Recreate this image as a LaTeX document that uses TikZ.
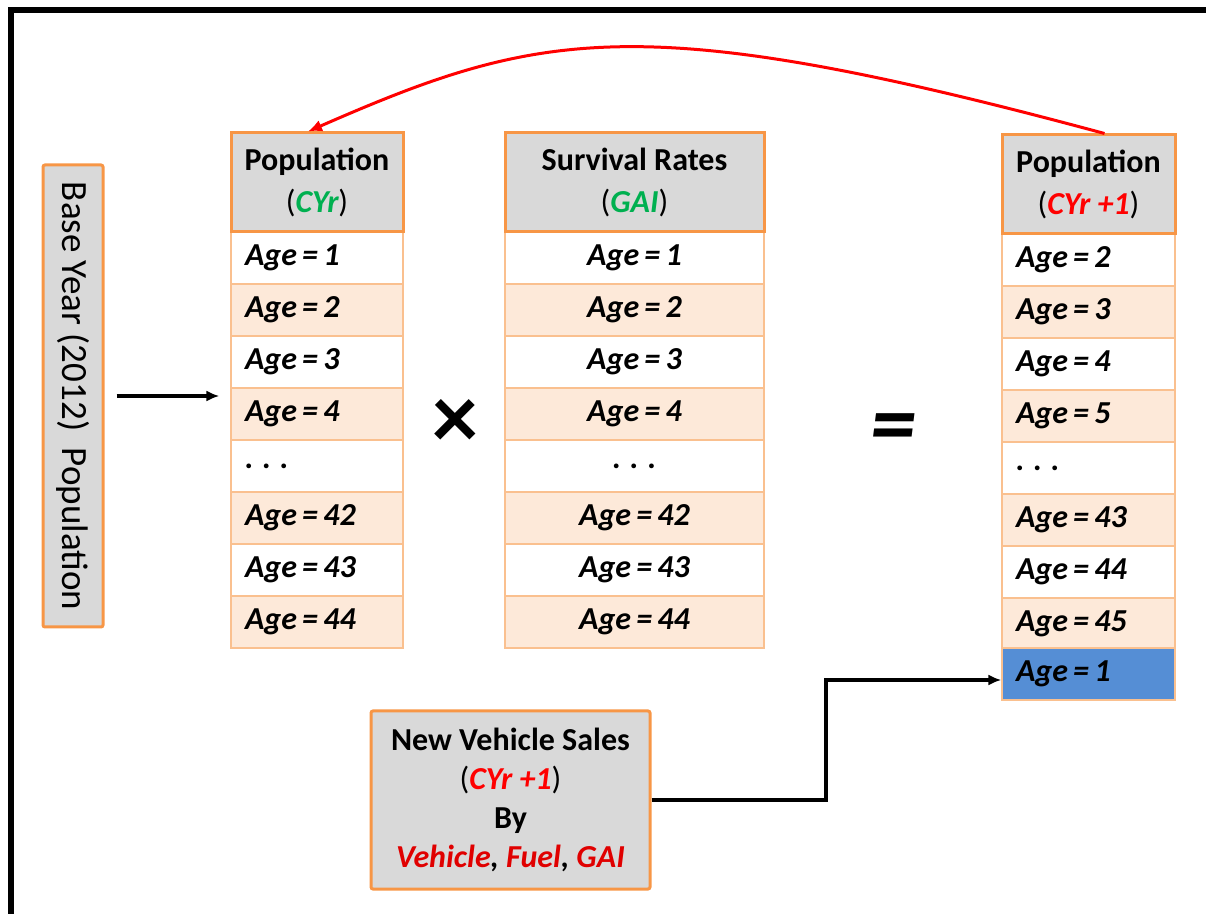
\documentclass[tikz,border=0pt]{standalone}
\usepackage{fontspec}
\setmainfont{Carlito}
\usepackage{tikz}
\usepackage{xcolor}
\usetikzlibrary{arrows.meta}

\definecolor{orangeline}{HTML}{F79646}
\definecolor{cellline}{HTML}{FAC08F}
\definecolor{peach}{HTML}{FDE9D9}
\definecolor{headgray}{HTML}{D9D9D9}
\definecolor{ageblue}{HTML}{558ED5}
\definecolor{cygreen}{HTML}{00B050}
\definecolor{vehred}{HTML}{E00000}
\newcommand{\hdrfont}{\fontsize{16}{21}\selectfont\bfseries}
\newcommand{\agefont}{\fontsize{16}{19}\selectfont\bfseries\itshape}
\newcommand{\ag}[1]{Age\hspace{2.6pt}=\hspace{2.6pt}#1}
\newcommand{\agdots}{.\hspace{4.5pt}.\hspace{4.5pt}.}

\begin{document}
\begin{tikzpicture}[x=0.5pt,y=-0.5pt,
  hdr/.style={draw=orangeline,line width=1.5pt,fill=headgray,minimum height=49.5pt,align=center,font=\hdrfont},
  cellw/.style={draw=cellline,line width=0.6pt,fill=white,minimum height=26pt,inner xsep=7pt,font=\agefont},
  cellp/.style={cellw,fill=peach},
  col1/.style={text width=72pt,align=left},
  col2/.style={text width=115.5pt,align=center},
  col3/.style={text width=72.5pt,align=left},
  blackarrow/.style={line width=1.6pt,-{Latex[length=6.5pt,width=5.5pt]}},
  redarrow/.style={red,line width=1.5pt,-{Latex[length=7pt,width=6pt]}}]
\useasboundingbox (0,0) rectangle (1206,914);
\draw[line width=3pt] (11,914) -- (11,10) -- (1206,10);
\node[draw=orangeline,line width=1.5pt,fill=headgray,rounded corners=1pt,minimum width=30pt,minimum height=231pt,inner sep=0pt] (base) at (73,396) {\rotatebox{-90}{\fontsize{18.5}{20}\selectfont Base Year (2012)\ \ Population}};
\node[cellw,col1] (a1) at (317,258) {\ag{1}};
\node[cellp,col1] (a2) at (317,310) {\ag{2}};
\node[cellw,col1] (a3) at (317,362) {\ag{3}};
\node[cellp,col1] (a4) at (317,414) {\ag{4}};
\node[cellw,col1] (a5) at (317,466) {\agdots};
\node[cellp,col1] (a6) at (317,518) {\ag{42}};
\node[cellw,col1] (a7) at (317,570) {\ag{43}};
\node[cellp,col1] (a8) at (317,622) {\ag{44}};
\node[hdr,minimum width=86pt] (hdr1) at (317,182.5) {Population\\{\mdseries(}\textcolor{cygreen}{\itshape CYr}{\mdseries)}};
\node[cellw,col2] (b1) at (634.5,258) {\ag{1}};
\node[cellp,col2] (b2) at (634.5,310) {\ag{2}};
\node[cellw,col2] (b3) at (634.5,362) {\ag{3}};
\node[cellp,col2] (b4) at (634.5,414) {\ag{4}};
\node[cellw,col2] (b5) at (634.5,466) {\agdots};
\node[cellp,col2] (b6) at (634.5,518) {\ag{42}};
\node[cellw,col2] (b7) at (634.5,570) {\ag{43}};
\node[cellp,col2] (b8) at (634.5,622) {\ag{44}};
\node[hdr,minimum width=129.5pt] (hdr2) at (634.5,182.5) {Survival Rates\\{\mdseries(}\textcolor{cygreen}{\itshape GAI}{\mdseries)}};
\node[cellw,col3] (c1) at (1088.5,260) {\ag{2}};
\node[cellp,col3] (c2) at (1088.5,312) {\ag{3}};
\node[cellw,col3] (c3) at (1088.5,364) {\ag{4}};
\node[cellp,col3] (c4) at (1088.5,416) {\ag{5}};
\node[cellw,col3] (c5) at (1088.5,468) {\agdots};
\node[cellp,col3] (c6) at (1088.5,520) {\ag{43}};
\node[cellw,col3] (c7) at (1088.5,572) {\ag{44}};
\node[cellp,col3] (c8) at (1088.5,624) {\ag{45}};
\node[cellw,col3,fill=ageblue] (c9) at (1088.5,674) {\ag{1}};
\node[hdr,minimum width=86.5pt] (hdr3) at (1088.5,184.5) {Population\\{\mdseries(}\textcolor{red}{\itshape CYr +1}{\mdseries)}};
\node[font=\fontsize{46}{46}\selectfont\bfseries] (times) at (455,424) {×};
\node[font=\fontsize{46}{46}\selectfont\bfseries\itshape] (equals) at (893,434) {=};
\node[draw=orangeline,line width=1.5pt,fill=headgray,rounded corners=1pt,minimum width=139.5pt,minimum height=89pt,align=center,font=\fontsize{16}{19.5}\selectfont\bfseries] (sales) at (510.5,800) {New Vehicle Sales\\{\mdseries(}\textcolor{red}{\itshape CYr +1}{\mdseries)}\\By\\\itshape\textcolor{vehred}{Vehicle}, \textcolor{vehred}{Fuel}, \textcolor{vehred}{GAI}};
\coordinate (bend) at (826,800);
\draw[blackarrow,shorten <=6pt,shorten >=5.5pt] (base.east) -- (base.east -| a4.west);
\draw[blackarrow] (sales.east) -- (bend) |- ([yshift=-3pt]c9.west);
\draw[redarrow] ([xshift=8pt]hdr3.north) .. controls (640,8) and (540,30) .. ([xshift=-4.5pt]hdr1.north);
\end{tikzpicture}
\end{document}
